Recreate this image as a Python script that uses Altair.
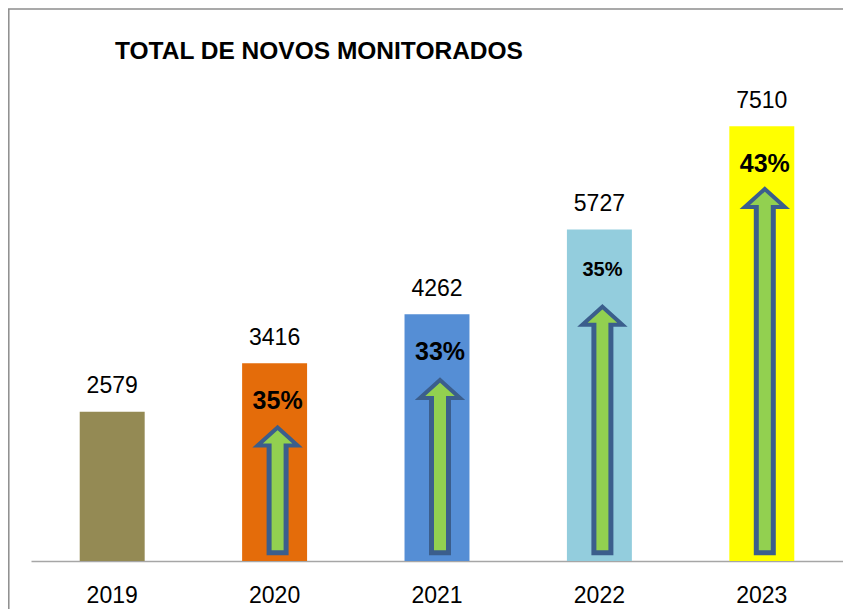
import altair as alt
import pandas as pd

# ---- data ----
years = ["2019", "2020", "2021", "2022", "2023"]
totals = [2579, 3416, 4262, 5727, 7510]
bar_colors = ["#948A54", "#E46C0A", "#558ED5", "#93CDDD", "#FFFF00"]
growth_labels = ["", "35%", "33%", "35%", "43%"]
arrow_tips = [None, 2343, 3162, 4429, 6463]   # tip of each growth arrow, in chart units
title_text = "TOTAL DE NOVOS MONITORADOS"

FONT = "Liberation Sans"
ARROW_DARK = "#3B5E8C"
ARROW_GREEN = "#92D050"

df = pd.DataFrame({"year": years, "total": totals, "growth": growth_labels})
arrows = pd.DataFrame({"year": years, "tip": arrow_tips}).dropna()
arrows["base"] = 100
arrows["base_inner"] = 186

x_enc = alt.X(
    "year:N",
    sort=years,
    scale=alt.Scale(domain=years, paddingInner=0.6, paddingOuter=0.3),
    axis=alt.Axis(
        title=None,
        labelAngle=0,
        labelFont=FONT,
        labelFontSize=23,
        labelColor="#000000",
        labelPadding=23,
        ticks=False,
        tickSize=0,
        grid=False,
        domainColor="#A6A6A6",
        domainWidth=1.5,
    ),
)
y_scale = alt.Scale(domain=[0, 8000], nice=False)
y_enc = alt.Y("total:Q", scale=y_scale, axis=None)

base = alt.Chart(df)

bars = base.mark_bar().encode(
    x=x_enc,
    y=y_enc,
    color=alt.Color("year:N", scale=alt.Scale(domain=years, range=bar_colors), legend=None),
)

values = base.mark_text(
    font=FONT, fontSize=23, color="#000000", baseline="alphabetic", dy=-18.5
).encode(x=alt.X("year:N", sort=years), y=alt.Y("total:Q", scale=y_scale), text="total:Q")

arrow_base = alt.Chart(arrows).transform_calculate(shaft_top="datum.tip - 260")

shaft_outer = arrow_base.mark_rule(
    strokeWidth=22, color=ARROW_DARK, strokeCap="butt", xOffset=3
).encode(
    x=alt.X("year:N", sort=years),
    y=alt.Y("base:Q", scale=y_scale),
    y2="shaft_top:Q",
)

head = arrow_base.mark_point(
    shape="M0,-0.45L1,0.45L-1,0.45Z",
    size=1600,
    filled=True,
    fill=ARROW_GREEN,
    stroke=ARROW_DARK,
    strokeWidth=4,
    strokeJoin="miter",
    opacity=1,
    fillOpacity=1,
    strokeOpacity=1,
    xOffset=3,
    yOffset=11,
).encode(x=alt.X("year:N", sort=years), y=alt.Y("tip:Q", scale=y_scale))

shaft_inner = arrow_base.mark_rule(
    strokeWidth=12, color=ARROW_GREEN, strokeCap="butt", xOffset=3
).encode(
    x=alt.X("year:N", sort=years),
    y=alt.Y("base_inner:Q", scale=y_scale),
    y2="shaft_top:Q",
)

pct = base.transform_filter("datum.growth != ''").mark_text(
    font=FONT, fontWeight="bold", color="#000000", baseline="alphabetic", dy=46, dx=3
).encode(
    x=alt.X("year:N", sort=years),
    y=alt.Y("total:Q", scale=y_scale),
    text="growth:N",
    size=alt.condition("datum.year == '2022'", alt.value(20), alt.value(25)),
)

title = alt.Chart(pd.DataFrame({"t": [title_text]})).mark_text(
    font=FONT, fontSize=24.5, fontWeight="bold", color="#000000", align="left", baseline="alphabetic"
).encode(x=alt.value(84), y=alt.value(-38.7), text="t:N")

frame_top = alt.Chart(pd.DataFrame({"a": [0]})).mark_rule(color="#8C8C8C", strokeWidth=1.5).encode(
    x=alt.value(-23), x2=alt.value(812), y=alt.value(-89)
)
frame_left = alt.Chart(pd.DataFrame({"a": [0]})).mark_rule(color="#8C8C8C", strokeWidth=1.5).encode(
    x=alt.value(-22.2), y=alt.value(-89), y2=alt.value(520)
)

chart = alt.layer(
    frame_top, frame_left, bars, values, shaft_outer, head, shaft_inner, pct, title
).properties(
    width=812,
    height=463,
    background="#FFFFFF",
    autosize=alt.AutoSizeParams(type="none"),
    padding={"left": 23, "top": 90, "right": 0, "bottom": 48},
).configure_view(stroke=None, strokeWidth=0)

chart.save("out.html", embed_options={"renderer": "svg", "actions": False})
